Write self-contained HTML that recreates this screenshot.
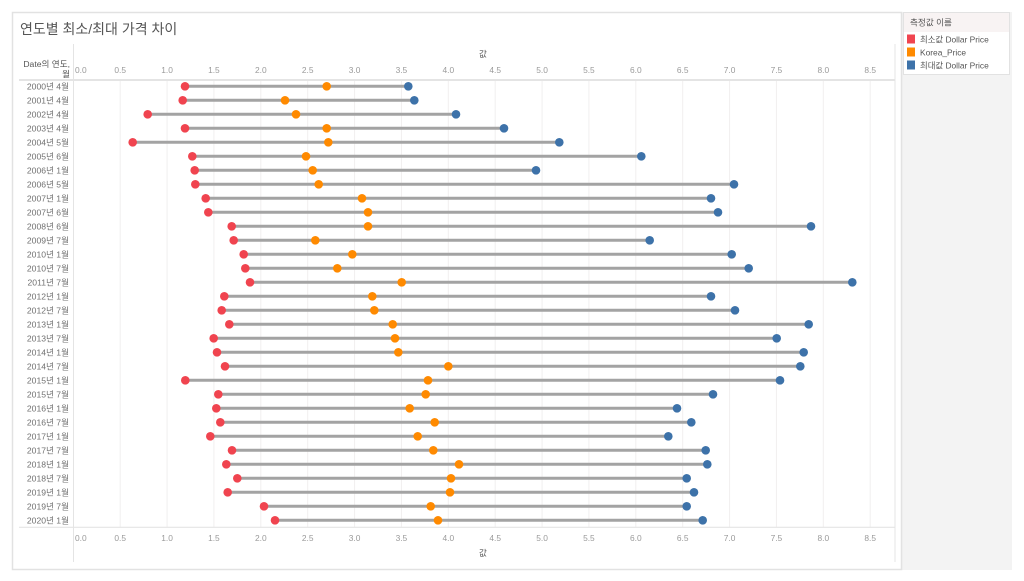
<!DOCTYPE html>
<html>
<head>
<meta charset="utf-8">
<style>
html,body{margin:0;padding:0;background:#fff;}
svg{display:block;}
text{font-family:"Liberation Sans","Noto Sans CJK KR",sans-serif;}
.rl{font-size:8.6px;fill:#707070;text-anchor:end;}
.tk{font-size:8.4px;fill:#9a9a9a;text-anchor:middle;}
.gl{stroke:#f1efef;stroke-width:1;}
.ln{stroke:#a3a3a3;stroke-width:3;}
.r{fill:#f0444f;}
.o{fill:#ff8a00;}
.b{fill:#3d72a9;}
</style>
</head>
<body>
<svg width="1024" height="581" viewBox="0 0 1024 581" xmlns="http://www.w3.org/2000/svg">
<rect x="0" y="0" width="1024" height="581" fill="#ffffff"/>
<!-- right gray area -->
<rect x="901" y="12" width="111" height="558" fill="#f3f3f3"/>
<!-- main panel -->
<rect x="12.5" y="12.5" width="889" height="557" fill="#ffffff" stroke="#e2e2e2" stroke-width="1.5"/>
<!-- legend -->
<rect x="903.5" y="12.5" width="106" height="62" fill="#ffffff" stroke="#e2e2e2" stroke-width="1"/>
<rect x="904" y="13" width="105" height="19" fill="#f8f3f3"/>
<text x="910" y="25.5" style="font-size:8.6px;fill:#555;">측정값 이름</text>
<rect x="907" y="34.5" width="8" height="9" class="r"/>
<text x="920" y="42.3" style="font-size:8.4px;fill:#555;">최소값 Dollar Price</text>
<rect x="907" y="47.5" width="8" height="9" class="o"/>
<text x="920" y="55.5" style="font-size:8.4px;fill:#555;">Korea_Price</text>
<rect x="907" y="60.5" width="8" height="9" class="b"/>
<text x="920" y="68.5" style="font-size:8.4px;fill:#555;">최대값 Dollar Price</text>

<!-- title -->
<text x="20" y="34" style="font-size:14px;fill:#555;">연도별 최소/최대 가격 차이</text>

<!-- header labels -->
<text x="483" y="57" style="font-size:8.6px;fill:#555;text-anchor:middle;">값</text>
<text x="70" y="67" class="rl" style="fill:#555;">Date의 연도,</text>
<text x="70" y="77" class="rl" style="fill:#555;">월</text>

<!-- gridlines -->
<g class="gl">
<line x1="120.2" y1="80" x2="120.2" y2="527"/>
<line x1="167.1" y1="80" x2="167.1" y2="527"/>
<line x1="213.9" y1="80" x2="213.9" y2="527"/>
<line x1="260.8" y1="80" x2="260.8" y2="527"/>
<line x1="307.7" y1="80" x2="307.7" y2="527"/>
<line x1="354.6" y1="80" x2="354.6" y2="527"/>
<line x1="401.4" y1="80" x2="401.4" y2="527"/>
<line x1="448.3" y1="80" x2="448.3" y2="527"/>
<line x1="495.2" y1="80" x2="495.2" y2="527"/>
<line x1="542.1" y1="80" x2="542.1" y2="527"/>
<line x1="588.9" y1="80" x2="588.9" y2="527"/>
<line x1="635.8" y1="80" x2="635.8" y2="527"/>
<line x1="682.7" y1="80" x2="682.7" y2="527"/>
<line x1="729.6" y1="80" x2="729.6" y2="527"/>
<line x1="776.4" y1="80" x2="776.4" y2="527"/>
<line x1="823.3" y1="80" x2="823.3" y2="527"/>
<line x1="870.2" y1="80" x2="870.2" y2="527"/>
</g>

<!-- axis frame lines -->
<line x1="73.5" y1="44" x2="73.5" y2="562" stroke="#e4e4e4" stroke-width="1"/>
<line x1="895" y1="44" x2="895" y2="562" stroke="#e4e4e4" stroke-width="1"/>
<line x1="19" y1="80" x2="895" y2="80" stroke="#e4e4e4" stroke-width="2"/>
<line x1="19" y1="527.3" x2="895" y2="527.3" stroke="#e4e4e4" stroke-width="1.2"/>

<!-- top tick labels -->
<g class="tk">
<text x="75" y="73" style="text-anchor:start">0.0</text>
<text x="120.2" y="73">0.5</text>
<text x="167.1" y="73">1.0</text>
<text x="213.9" y="73">1.5</text>
<text x="260.8" y="73">2.0</text>
<text x="307.7" y="73">2.5</text>
<text x="354.6" y="73">3.0</text>
<text x="401.4" y="73">3.5</text>
<text x="448.3" y="73">4.0</text>
<text x="495.2" y="73">4.5</text>
<text x="542.1" y="73">5.0</text>
<text x="588.9" y="73">5.5</text>
<text x="635.8" y="73">6.0</text>
<text x="682.7" y="73">6.5</text>
<text x="729.6" y="73">7.0</text>
<text x="776.4" y="73">7.5</text>
<text x="823.3" y="73">8.0</text>
<text x="870.2" y="73">8.5</text>
</g>
<!-- bottom tick labels -->
<g class="tk">
<text x="75" y="541" style="text-anchor:start">0.0</text>
<text x="120.2" y="541">0.5</text>
<text x="167.1" y="541">1.0</text>
<text x="213.9" y="541">1.5</text>
<text x="260.8" y="541">2.0</text>
<text x="307.7" y="541">2.5</text>
<text x="354.6" y="541">3.0</text>
<text x="401.4" y="541">3.5</text>
<text x="448.3" y="541">4.0</text>
<text x="495.2" y="541">4.5</text>
<text x="542.1" y="541">5.0</text>
<text x="588.9" y="541">5.5</text>
<text x="635.8" y="541">6.0</text>
<text x="682.7" y="541">6.5</text>
<text x="729.6" y="541">7.0</text>
<text x="776.4" y="541">7.5</text>
<text x="823.3" y="541">8.0</text>
<text x="870.2" y="541">8.5</text>
</g>
<text x="483" y="556" style="font-size:8.6px;fill:#555;text-anchor:middle;">값</text>

<!-- row labels -->
<g class="rl">
<text x="69" y="89.5">2000년 4월</text>
<text x="69" y="103.5">2001년 4월</text>
<text x="69" y="117.5">2002년 4월</text>
<text x="69" y="131.5">2003년 4월</text>
<text x="69" y="145.5">2004년 5월</text>
<text x="69" y="159.5">2005년 6월</text>
<text x="69" y="173.5">2006년 1월</text>
<text x="69" y="187.5">2006년 5월</text>
<text x="69" y="201.5">2007년 1월</text>
<text x="69" y="215.5">2007년 6월</text>
<text x="69" y="229.5">2008년 6월</text>
<text x="69" y="243.5">2009년 7월</text>
<text x="69" y="257.5">2010년 1월</text>
<text x="69" y="271.5">2010년 7월</text>
<text x="69" y="285.5">2011년 7월</text>
<text x="69" y="299.5">2012년 1월</text>
<text x="69" y="313.5">2012년 7월</text>
<text x="69" y="327.5">2013년 1월</text>
<text x="69" y="341.5">2013년 7월</text>
<text x="69" y="355.5">2014년 1월</text>
<text x="69" y="369.5">2014년 7월</text>
<text x="69" y="383.5">2015년 1월</text>
<text x="69" y="397.5">2015년 7월</text>
<text x="69" y="411.5">2016년 1월</text>
<text x="69" y="425.5">2016년 7월</text>
<text x="69" y="439.5">2017년 1월</text>
<text x="69" y="453.5">2017년 7월</text>
<text x="69" y="467.5">2018년 1월</text>
<text x="69" y="481.5">2018년 7월</text>
<text x="69" y="495.5">2019년 1월</text>
<text x="69" y="509.5">2019년 7월</text>
<text x="69" y="523.5">2020년 1월</text>
</g>

<!-- lines -->
<g class="ln">
<line x1="185" y1="86.3" x2="408.3" y2="86.3"/>
<line x1="182.7" y1="100.3" x2="414.3" y2="100.3"/>
<line x1="147.7" y1="114.3" x2="456" y2="114.3"/>
<line x1="185" y1="128.3" x2="504" y2="128.3"/>
<line x1="132.7" y1="142.3" x2="559.3" y2="142.3"/>
<line x1="192.3" y1="156.3" x2="641.3" y2="156.3"/>
<line x1="194.7" y1="170.3" x2="536" y2="170.3"/>
<line x1="195.3" y1="184.3" x2="734" y2="184.3"/>
<line x1="205.7" y1="198.3" x2="711" y2="198.3"/>
<line x1="208.3" y1="212.3" x2="718" y2="212.3"/>
<line x1="231.7" y1="226.3" x2="811" y2="226.3"/>
<line x1="233.7" y1="240.3" x2="649.7" y2="240.3"/>
<line x1="243.7" y1="254.3" x2="731.7" y2="254.3"/>
<line x1="245.3" y1="268.3" x2="748.7" y2="268.3"/>
<line x1="250" y1="282.3" x2="852.3" y2="282.3"/>
<line x1="224.3" y1="296.3" x2="711" y2="296.3"/>
<line x1="221.7" y1="310.3" x2="735" y2="310.3"/>
<line x1="229.3" y1="324.3" x2="808.7" y2="324.3"/>
<line x1="213.7" y1="338.3" x2="776.7" y2="338.3"/>
<line x1="217" y1="352.3" x2="803.7" y2="352.3"/>
<line x1="225" y1="366.3" x2="800.3" y2="366.3"/>
<line x1="185.3" y1="380.3" x2="780" y2="380.3"/>
<line x1="218.3" y1="394.3" x2="713" y2="394.3"/>
<line x1="216.3" y1="408.3" x2="677" y2="408.3"/>
<line x1="220.3" y1="422.3" x2="691.3" y2="422.3"/>
<line x1="210.3" y1="436.3" x2="668.3" y2="436.3"/>
<line x1="232" y1="450.3" x2="705.7" y2="450.3"/>
<line x1="226.3" y1="464.3" x2="707.3" y2="464.3"/>
<line x1="237.3" y1="478.3" x2="686.7" y2="478.3"/>
<line x1="227.7" y1="492.3" x2="694" y2="492.3"/>
<line x1="264" y1="506.3" x2="686.7" y2="506.3"/>
<line x1="275" y1="520.3" x2="702.7" y2="520.3"/>
</g>

<!-- red dots -->
<g class="r">
<circle cx="185" cy="86.3" r="4.3"/>
<circle cx="182.7" cy="100.3" r="4.3"/>
<circle cx="147.7" cy="114.3" r="4.3"/>
<circle cx="185" cy="128.3" r="4.3"/>
<circle cx="132.7" cy="142.3" r="4.3"/>
<circle cx="192.3" cy="156.3" r="4.3"/>
<circle cx="194.7" cy="170.3" r="4.3"/>
<circle cx="195.3" cy="184.3" r="4.3"/>
<circle cx="205.7" cy="198.3" r="4.3"/>
<circle cx="208.3" cy="212.3" r="4.3"/>
<circle cx="231.7" cy="226.3" r="4.3"/>
<circle cx="233.7" cy="240.3" r="4.3"/>
<circle cx="243.7" cy="254.3" r="4.3"/>
<circle cx="245.3" cy="268.3" r="4.3"/>
<circle cx="250" cy="282.3" r="4.3"/>
<circle cx="224.3" cy="296.3" r="4.3"/>
<circle cx="221.7" cy="310.3" r="4.3"/>
<circle cx="229.3" cy="324.3" r="4.3"/>
<circle cx="213.7" cy="338.3" r="4.3"/>
<circle cx="217" cy="352.3" r="4.3"/>
<circle cx="225" cy="366.3" r="4.3"/>
<circle cx="185.3" cy="380.3" r="4.3"/>
<circle cx="218.3" cy="394.3" r="4.3"/>
<circle cx="216.3" cy="408.3" r="4.3"/>
<circle cx="220.3" cy="422.3" r="4.3"/>
<circle cx="210.3" cy="436.3" r="4.3"/>
<circle cx="232" cy="450.3" r="4.3"/>
<circle cx="226.3" cy="464.3" r="4.3"/>
<circle cx="237.3" cy="478.3" r="4.3"/>
<circle cx="227.7" cy="492.3" r="4.3"/>
<circle cx="264" cy="506.3" r="4.3"/>
<circle cx="275" cy="520.3" r="4.3"/>
</g>

<!-- orange dots -->
<g class="o">
<circle cx="326.7" cy="86.3" r="4.3"/>
<circle cx="285" cy="100.3" r="4.3"/>
<circle cx="296" cy="114.3" r="4.3"/>
<circle cx="326.7" cy="128.3" r="4.3"/>
<circle cx="328.3" cy="142.3" r="4.3"/>
<circle cx="306" cy="156.3" r="4.3"/>
<circle cx="312.7" cy="170.3" r="4.3"/>
<circle cx="318.7" cy="184.3" r="4.3"/>
<circle cx="362" cy="198.3" r="4.3"/>
<circle cx="368" cy="212.3" r="4.3"/>
<circle cx="368" cy="226.3" r="4.3"/>
<circle cx="315.3" cy="240.3" r="4.3"/>
<circle cx="352.3" cy="254.3" r="4.3"/>
<circle cx="337.3" cy="268.3" r="4.3"/>
<circle cx="401.7" cy="282.3" r="4.3"/>
<circle cx="372.3" cy="296.3" r="4.3"/>
<circle cx="374.3" cy="310.3" r="4.3"/>
<circle cx="392.7" cy="324.3" r="4.3"/>
<circle cx="395" cy="338.3" r="4.3"/>
<circle cx="398.3" cy="352.3" r="4.3"/>
<circle cx="448.3" cy="366.3" r="4.3"/>
<circle cx="428" cy="380.3" r="4.3"/>
<circle cx="425.7" cy="394.3" r="4.3"/>
<circle cx="409.7" cy="408.3" r="4.3"/>
<circle cx="434.7" cy="422.3" r="4.3"/>
<circle cx="417.7" cy="436.3" r="4.3"/>
<circle cx="433.3" cy="450.3" r="4.3"/>
<circle cx="459" cy="464.3" r="4.3"/>
<circle cx="451" cy="478.3" r="4.3"/>
<circle cx="450" cy="492.3" r="4.3"/>
<circle cx="430.7" cy="506.3" r="4.3"/>
<circle cx="438" cy="520.3" r="4.3"/>
</g>

<!-- blue dots -->
<g class="b">
<circle cx="408.3" cy="86.3" r="4.3"/>
<circle cx="414.3" cy="100.3" r="4.3"/>
<circle cx="456" cy="114.3" r="4.3"/>
<circle cx="504" cy="128.3" r="4.3"/>
<circle cx="559.3" cy="142.3" r="4.3"/>
<circle cx="641.3" cy="156.3" r="4.3"/>
<circle cx="536" cy="170.3" r="4.3"/>
<circle cx="734" cy="184.3" r="4.3"/>
<circle cx="711" cy="198.3" r="4.3"/>
<circle cx="718" cy="212.3" r="4.3"/>
<circle cx="811" cy="226.3" r="4.3"/>
<circle cx="649.7" cy="240.3" r="4.3"/>
<circle cx="731.7" cy="254.3" r="4.3"/>
<circle cx="748.7" cy="268.3" r="4.3"/>
<circle cx="852.3" cy="282.3" r="4.3"/>
<circle cx="711" cy="296.3" r="4.3"/>
<circle cx="735" cy="310.3" r="4.3"/>
<circle cx="808.7" cy="324.3" r="4.3"/>
<circle cx="776.7" cy="338.3" r="4.3"/>
<circle cx="803.7" cy="352.3" r="4.3"/>
<circle cx="800.3" cy="366.3" r="4.3"/>
<circle cx="780" cy="380.3" r="4.3"/>
<circle cx="713" cy="394.3" r="4.3"/>
<circle cx="677" cy="408.3" r="4.3"/>
<circle cx="691.3" cy="422.3" r="4.3"/>
<circle cx="668.3" cy="436.3" r="4.3"/>
<circle cx="705.7" cy="450.3" r="4.3"/>
<circle cx="707.3" cy="464.3" r="4.3"/>
<circle cx="686.7" cy="478.3" r="4.3"/>
<circle cx="694" cy="492.3" r="4.3"/>
<circle cx="686.7" cy="506.3" r="4.3"/>
<circle cx="702.7" cy="520.3" r="4.3"/>
</g>
</svg>
</body>
</html>
